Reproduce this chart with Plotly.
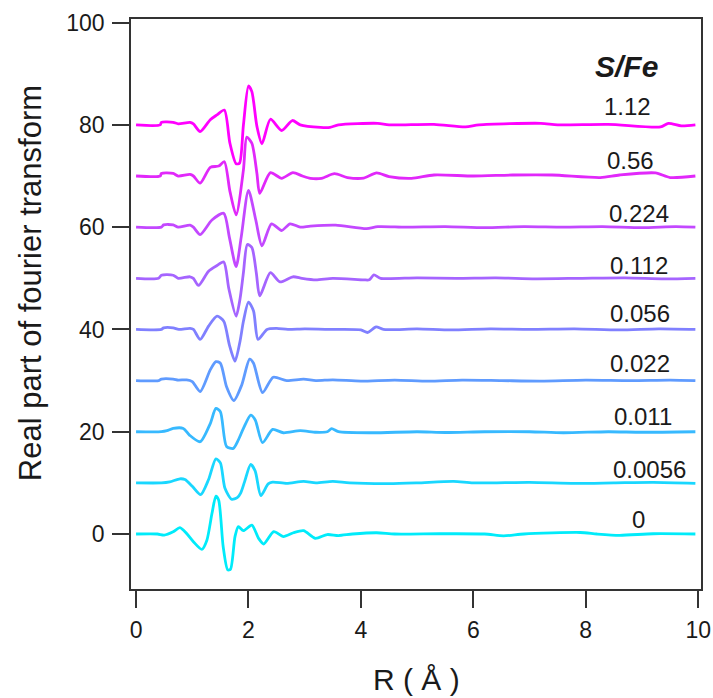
import plotly.graph_objects as go

# S/Fe ratios, bottom trace first; each trace is lifted by 10 for display
ratio_labels = ["0", "0.0056", "0.011", "0.022", "0.056", "0.112", "0.224", "0.56", "1.12"]
offsets = [0, 10, 20, 30, 40, 50, 60, 70, 80]

# R (Angstrom) and real part of the Fourier transform for each ratio
r_0 = [0.00, 0.38, 0.50, 0.66, 0.78, 0.90, 1.02, 1.17, 1.26, 1.35, 1.42, 1.47, 1.55, 1.63, 1.68,
       1.76, 1.82, 1.91, 2.06, 2.18, 2.27, 2.45, 2.62, 2.80, 2.98, 3.19, 3.40, 3.60, 3.85, 4.28,
       4.60, 5.40, 6.20, 6.54, 6.90, 7.90, 8.20, 8.60, 9.20, 9.95]
ft_0 = [0.0, 0.0, -0.2, 0.45, 1.25, 0.1, -1.5, -3.0, -1.2, 4.0, 7.4, 6.6, -2.5, -7.0, -6.9,
        -0.5, 1.45, 0.65, 1.75, -0.85, -1.95, 0.45, -0.5, 0.25, 0.65, -0.85, -0.1, -0.3, 0.0, 0.25,
        0.0, 0.05, 0.0, -0.35, 0.0, 0.3, 0.0, -0.25, 0.05, 0.0]

r_0056 = [0.00, 0.45, 0.60, 0.78, 0.87, 1.00, 1.15, 1.29, 1.42, 1.50, 1.58, 1.70, 1.80, 1.86, 1.93,
          2.04, 2.12, 2.22, 2.35, 2.43, 2.68, 2.98, 3.20, 3.50, 3.80, 4.50, 5.00, 5.65, 6.00, 7.00,
          7.80, 8.50, 9.20, 9.95]
ft_0056 = [0.0, 0.0, 0.2, 0.8, 0.65, -0.65, -2.3, 0.65, 4.7, 3.9, -1.0, -3.2, -2.9, -2.0, 0.2,
           3.6, 2.3, -2.5, -0.2, 0.15, -0.1, 0.3, 0.0, 0.3, 0.0, -0.15, 0.0, 0.3, 0.0, 0.1,
           -0.1, 0.0, 0.1, -0.1]

r_011 = [0.00, 0.45, 0.55, 0.66, 0.84, 0.95, 1.14, 1.32, 1.42, 1.50, 1.61, 1.73, 1.82, 1.91, 2.04,
         2.12, 2.25, 2.43, 2.62, 2.92, 3.20, 3.40, 3.48, 3.60, 4.20, 5.00, 5.50, 6.20, 7.00, 7.60,
         8.40, 9.00, 9.95]
ft_011 = [0.0, 0.0, 0.2, 0.65, 0.65, -0.65, -1.95, 1.6, 4.55, 3.9, -2.9, -3.25, -1.6, 0.65, 3.25,
          2.3, -2.15, 0.45, -0.2, 0.2, -0.1, 0.0, 0.6, 0.0, -0.2, 0.0, -0.15, 0.0, 0.0, -0.2,
          0.0, -0.1, 0.0]

r_022 = [0.00, 0.40, 0.45, 0.66, 0.75, 0.90, 1.00, 1.14, 1.32, 1.42, 1.50, 1.61, 1.74, 1.88, 2.02,
         2.09, 2.25, 2.44, 2.68, 2.98, 3.20, 3.50, 4.00, 4.60, 5.20, 5.80, 6.50, 7.20, 8.00, 8.80,
         9.50, 9.95]
ft_022 = [0.0, 0.0, 0.3, 0.3, 0.1, 0.15, -0.2, -2.15, 2.1, 3.7, 3.4, -1.2, -3.9, -0.85, 4.2,
          3.4, -2.35, 0.65, 0.0, 0.3, 0.0, 0.15, -0.1, 0.1, -0.1, 0.1, 0.0, -0.1, 0.1, 0.0,
          0.1, 0.0]

r_056 = [0.00, 0.45, 0.49, 0.66, 0.76, 0.96, 1.02, 1.14, 1.29, 1.44, 1.56, 1.66, 1.76, 1.85, 1.91,
         2.00, 2.09, 2.17, 2.33, 2.50, 2.70, 3.00, 3.50, 4.00, 4.12, 4.27, 4.40, 5.00, 5.60, 6.30,
         7.00, 7.80, 8.60, 9.30, 9.95]
ft_056 = [0.0, 0.0, 0.3, 0.3, 0.0, 0.2, 0.0, -1.95, 0.65, 2.6, 1.6, -3.0, -6.2, -2.3, 1.6,
          5.35, 3.6, -1.95, 0.0, 0.2, 0.0, 0.1, 0.0, -0.1, -0.6, 0.5, 0.0, 0.1, -0.1, 0.1,
          0.0, 0.1, -0.1, 0.1, 0.0]

r_112 = [0.00, 0.40, 0.45, 0.66, 0.75, 0.96, 1.02, 1.11, 1.29, 1.44, 1.56, 1.65, 1.78, 1.85, 1.91,
         1.98, 2.06, 2.14, 2.20, 2.39, 2.56, 2.79, 2.95, 3.20, 3.50, 4.05, 4.15, 4.23, 4.35, 5.00,
         5.70, 6.40, 7.10, 7.90, 8.70, 9.40, 9.95]
ft_112 = [0.0, 0.0, 0.6, 0.6, 0.0, 0.3, 0.0, -1.4, 1.4, 2.5, 3.2, -2.0, -7.4, -4.0, 1.1,
          6.6, 6.0, 1.0, -3.45, 1.1, -0.7, 0.3, 0.0, -0.3, 0.0, -0.3, -0.3, 0.65, 0.0, 0.1,
          0.0, 0.1, -0.1, 0.0, 0.1, -0.1, 0.0]

r_224 = [0.00, 0.45, 0.49, 0.66, 0.75, 0.96, 1.02, 1.14, 1.35, 1.56, 1.66, 1.78, 1.87, 2.00, 2.13,
         2.24, 2.41, 2.59, 2.74, 2.92, 3.10, 3.55, 4.10, 4.30, 4.80, 5.50, 6.20, 6.90, 7.60, 8.30,
         9.00, 9.60, 9.95]
ft_224 = [0.0, 0.0, 0.45, 0.45, 0.0, 0.4, 0.0, -1.45, 1.4, 2.7, -2.0, -7.7, -2.0, 7.2, 1.4,
          -3.65, 0.65, -0.65, 0.65, 0.0, 0.2, 0.4, -0.3, 0.1, 0.0, 0.1, -0.1, 0.1, 0.0, 0.1,
          -0.1, 0.1, 0.0]

r_56 = [0.00, 0.43, 0.45, 0.66, 0.75, 0.96, 1.02, 1.14, 1.32, 1.47, 1.57, 1.67, 1.78, 1.91, 1.97,
        2.06, 2.15, 2.20, 2.39, 2.59, 2.79, 2.96, 3.10, 3.30, 3.53, 3.76, 4.05, 4.28, 4.50, 4.90,
        5.30, 6.00, 6.70, 7.40, 8.26, 8.60, 9.24, 9.50, 9.95]
ft_56 = [0.0, 0.0, 0.5, 0.5, 0.0, 0.3, 0.0, -1.4, 1.7, 1.95, 2.8, -3.0, -7.6, 1.2, 7.6,
         6.4, 0.5, -3.4, 0.65, -0.45, 0.65, 0.0, -0.45, -0.45, 0.45, -0.3, -0.4, 0.6, -0.1, -0.45,
         0.2, 0.0, 0.2, 0.2, -0.3, 0.2, 0.6, -0.3, 0.0]

r_112x = [0.00, 0.43, 0.45, 0.66, 0.75, 0.96, 1.02, 1.14, 1.32, 1.44, 1.57, 1.67, 1.78, 1.84, 1.91,
          2.00, 2.06, 2.15, 2.24, 2.39, 2.59, 2.78, 2.92, 3.28, 3.45, 3.60, 4.30, 4.50, 5.30, 5.86,
          6.10, 7.20, 7.50, 8.40, 9.33, 9.47, 9.70, 9.95]
ft_112x = [0.0, 0.0, 0.5, 0.5, 0.2, 0.5, 0.2, -1.3, 1.0, 1.95, 2.9, -3.6, -7.6, -7.5, 0.0,
           7.6, 6.5, -0.3, -3.7, 1.1, -1.1, 0.85, 0.0, -0.5, -0.5, 0.0, 0.3, 0.0, 0.1, -0.4,
           0.0, 0.3, 0.0, 0.1, -0.4, 0.3, -0.2, 0.0]

r_series = [r_0, r_0056, r_011, r_022, r_056, r_112, r_224, r_56, r_112x]
ft_series = [ft_0, ft_0056, ft_011, ft_022, ft_056, ft_112, ft_224, ft_56, ft_112x]

# cyan -> magenta ramp with increasing sulfur content
colors = ["rgb(0,235,250)", "rgb(25,215,255)", "rgb(55,185,255)", "rgb(95,155,255)",
          "rgb(128,128,255)", "rgb(165,100,255)", "rgb(195,72,255)", "rgb(225,40,250)",
          "rgb(255,0,255)"]

# label anchor (R, height above the trace baseline)
label_pos = [(8.93, 2.75), (9.13, 2.55), (9.01, 3.05), (8.97, 3.35), (8.97, 3.1),
             (8.94, 2.6), (8.94, 2.6), (8.79, 3.0), (8.74, 3.6)]

FONT = "Liberation Sans, Arial, sans-serif"
INK = "#1a1a1a"

fig = go.Figure()
for r, ft, off, col in zip(r_series, ft_series, offsets, colors):
    fig.add_trace(go.Scatter(x=r, y=[v + off for v in ft], mode="lines",
                             line=dict(color=col, width=2.8, shape="spline", smoothing=0.7),
                             hoverinfo="skip"))

annotations = []
for lab, off, (lx, dy) in zip(ratio_labels, offsets, label_pos):
    annotations.append(dict(x=lx, y=off + dy, xref="x", yref="y", text=lab, showarrow=False,
                            font=dict(family=FONT, size=24, color=INK),
                            xanchor="center", yanchor="middle"))
annotations.append(dict(x=8.72, y=91.5, xref="x", yref="y", text="<b><i>S/Fe</i></b>",
                        showarrow=False, font=dict(family=FONT, size=30, color=INK),
                        xanchor="center", yanchor="middle"))
annotations.append(dict(x=0.5, y=-0.158, xref="paper", yref="paper", text="R ( Å )",
                        showarrow=False, font=dict(family=FONT, size=30, color=INK),
                        xanchor="center", yanchor="middle"))
annotations.append(dict(x=-0.175, y=0.537, xref="paper", yref="paper",
                        text="Real part of fourier transform", textangle=-90,
                        showarrow=False, font=dict(family=FONT, size=31, color=INK),
                        xanchor="center", yanchor="middle"))

axis_common = dict(showgrid=False, zeroline=False, showline=True, mirror=True,
                   linecolor="#333333", linewidth=1.6, ticks="outside", ticklen=17,
                   tickwidth=1.6, tickcolor="#333333", automargin=False,
                   tickfont=dict(family=FONT, size=23, color=INK))

fig.update_layout(
    width=713, height=698,
    margin=dict(l=131, r=12, t=19, b=109, autoexpand=False),
    plot_bgcolor="white", paper_bgcolor="white",
    showlegend=False,
    xaxis=dict(range=[-0.09, 10.05], tickvals=[0, 2, 4, 6, 8, 10], ticklabelstandoff=3,
               **axis_common),
    yaxis=dict(range=[-10.75, 100.7], tickvals=[0, 20, 40, 60, 80, 100], ticklabelstandoff=3,
               **axis_common),
    annotations=annotations,
)

fig.write_html("out.html")
